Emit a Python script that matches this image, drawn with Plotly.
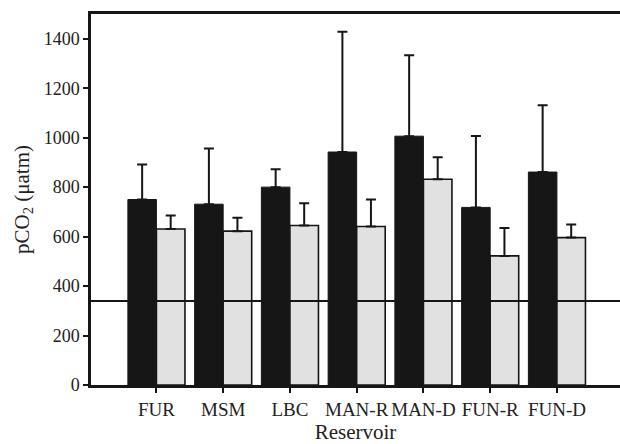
import plotly.graph_objects as go

categories = ["FUR", "MSM", "LBC", "MAN-R", "MAN-D", "FUN-R", "FUN-D"]
dark_values = [750, 731, 800, 942, 1006, 718, 861]
dark_errors = [142, 225, 72, 486, 327, 289, 270]
light_values = [631, 622, 645, 641, 832, 522, 596]
light_errors = [54, 54, 90, 109, 89, 113, 53]
reference_level = 340
y_ticks = [0, 200, 400, 600, 800, 1000, 1200, 1400]

ink = "#161616"
text_color = "#222222"
font_family = "Liberation Serif, Times New Roman, serif"

fig = go.Figure()
fig.add_trace(go.Bar(
    x=categories, y=dark_values,
    marker=dict(color=ink, line=dict(color=ink, width=1)),
    error_y=dict(type="data", array=dark_errors, arrayminus=[0] * len(dark_errors),
                 symmetric=False, color=ink, thickness=2, width=5),
    showlegend=False,
))
fig.add_trace(go.Bar(
    x=categories, y=light_values,
    marker=dict(color="#e0e1e0", line=dict(color=ink, width=1.6)),
    error_y=dict(type="data", array=light_errors, arrayminus=[0] * len(light_errors),
                 symmetric=False, color=ink, thickness=2, width=5),
    showlegend=False,
))

fig.add_shape(type="line", xref="paper", yref="y", x0=0, x1=1,
              y0=reference_level, y1=reference_level,
              line=dict(color=ink, width=2))

fig.update_layout(
    width=620, height=444,
    margin=dict(l=91, r=0, t=14, b=59),
    paper_bgcolor="white", plot_bgcolor="white",
    barmode="group", bargap=0.145, bargroupgap=0,
    font=dict(family=font_family, size=18, color=text_color),
)
fig.update_xaxes(
    range=[-0.98, 6.945],
    showline=True, linecolor=ink, linewidth=2.5, mirror=True,
    ticks="outside", ticklen=5, tickwidth=2, tickcolor=ink,
    showgrid=False, zeroline=False,
    tickfont=dict(size=19, family=font_family, color=text_color),
    title=dict(text="Reservoir", font=dict(size=21, family=font_family, color=text_color), standoff=7),
)
fig.update_yaxes(
    range=[0, 1500],
    tickmode="array", tickvals=y_ticks, ticktext=[str(v) for v in y_ticks],
    showline=True, linecolor=ink, linewidth=2.5,
    ticks="outside", ticklen=5, tickwidth=2, tickcolor=ink,
    showgrid=False, zeroline=False,
    tickfont=dict(size=18, family=font_family, color=text_color),
    title=dict(text="pCO<sub>2</sub> (μatm)", font=dict(size=21, family=font_family, color=text_color), standoff=9),
)

fig.write_html(
    "out.html",
    config={"displayModeBar": False, "responsive": False},
    post_script="document.body.style.margin='0';document.body.style.overflow='hidden';",
)
